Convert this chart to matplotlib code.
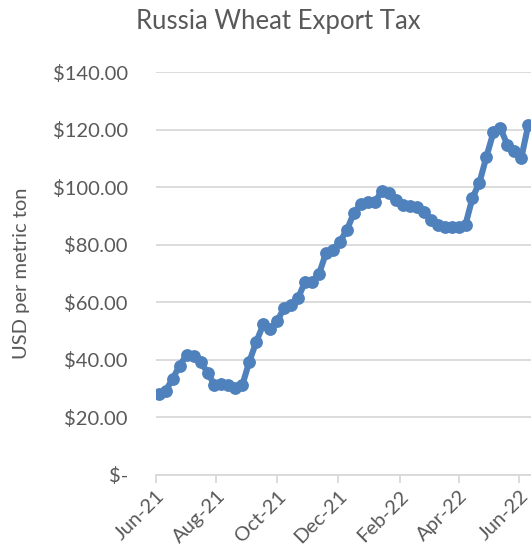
import numpy as np
import pandas as pd
import matplotlib
matplotlib.use('Agg')
import matplotlib.pyplot as plt
import matplotlib.dates as mdates
from matplotlib.ticker import FuncFormatter

# ── Data (weekly tax, USD per metric ton) ─────────────────────────────────────
START_DATE = '2021-06-04'
TAX_USD = [
    28.2, 29.3, 33.4, 38.0, 41.7, 41.4, 39.4, 35.6, 31.3, 31.6,
    31.3, 30.2, 31.3, 39.4, 46.3, 52.3, 50.7, 53.6, 58.0, 59.0,
    61.5, 67.2, 67.2, 69.9, 77.2, 78.2, 81.1, 85.2, 91.1, 94.2,
    95.0, 94.7, 98.8, 97.9, 95.6, 93.8, 93.3, 93.0, 91.5, 88.6,
    87.0, 86.3, 86.1, 86.3, 87.0, 96.3, 101.6, 110.6, 119.0, 120.5,
    114.7, 112.4, 110.2, 121.6,
]
DATES = pd.date_range(START_DATE, periods=len(TAX_USD), freq='7D')

Y_TICKS = [0, 20, 40, 60, 80, 100, 120, 140]
X_TICKS = pd.to_datetime(['2021-06-01', '2021-08-01', '2021-10-01',
                          '2021-12-01', '2022-02-01', '2022-04-01',
                          '2022-06-01'])

TITLE  = 'Russia Wheat Export Tax'
YLABEL = 'USD per metric ton'

# ── Style ─────────────────────────────────────────────────────────────────────
BLUE  = '#4F81BD'
TEXT  = '#595959'
GRID  = '#D9D9D9'
plt.rcParams['font.family'] = ['Lato', 'DejaVu Sans']

W, H = 531, 553
fig = plt.figure(figsize=(W / 100, H / 100), dpi=100)

# axes spans pixel x 155.7 -> 549 (past right edge), y 72 -> 475
ax = fig.add_axes([155.7 / W, (H - 475) / H, (549.2 - 155.7) / W, (475 - 72) / H])

ax.plot(DATES, TAX_USD, color=BLUE, lw=4.4, marker='o', ms=8.2,
        solid_capstyle='round', solid_joinstyle='round', zorder=3)

ax.set_xlim(pd.Timestamp('2021-06-01'), pd.Timestamp('2022-07-01'))
ax.set_ylim(0, 140)


def money(v, pos):
    if v == 0:
        return '$-'
    return f'${v:,.2f}'


ax.set_yticks(Y_TICKS)
ax.yaxis.set_major_formatter(FuncFormatter(money))
ax.set_xticks(X_TICKS)
ax.xaxis.set_major_formatter(mdates.DateFormatter('%b-%y'))

ax.grid(axis='y', color=GRID, lw=1.3, zorder=0)
for side in ['top', 'right', 'left']:
    ax.spines[side].set_visible(False)
ax.spines['bottom'].set_color(GRID)
ax.spines['bottom'].set_linewidth(1.3)

ax.tick_params(axis='y', length=0, pad=20, labelsize=14.5, labelcolor=TEXT)
ax.tick_params(axis='x', length=6, width=1.3, color=GRID, pad=3,
               labelsize=14.5, labelcolor=TEXT)
plt.setp(ax.get_xticklabels(), rotation=45, ha='right', rotation_mode='anchor')

fig.text(278 / W, 1 - 22 / H, TITLE, ha='center', va='center',
         fontsize=18.5, color=TEXT)
fig.text(22 / W, 1 - 273 / H, YLABEL, ha='center', va='center',
         rotation=90, fontsize=14.5, color=TEXT)

fig.savefig('out.png', dpi=100)
